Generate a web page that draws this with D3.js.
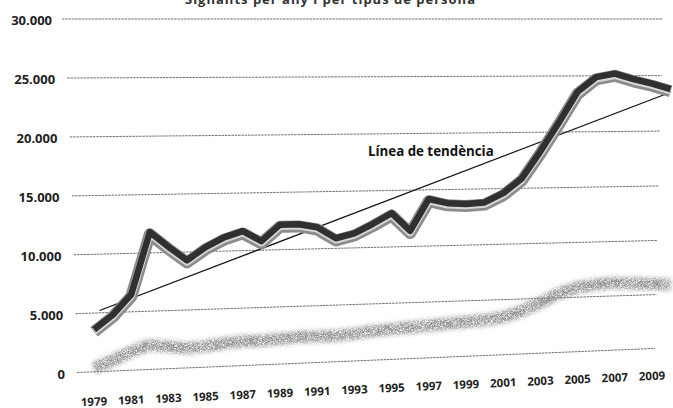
<!DOCTYPE html>
<html>
<head>
<meta charset="utf-8">
<title>Signants</title>
<script src="https://d3js.org/d3.v7.min.js"></script>
<style>
  body { margin: 0; background: #fff; }
  svg { display: block; }
  .y-label { font-family: "Open Sans", sans-serif; font-weight: 700; font-size: 13px; fill: #1e1e1e; }
  .x-label { font-family: "Open Sans", sans-serif; font-weight: 700; font-size: 11.5px; fill: #1e1e1e; }
  .grid { stroke: #555; stroke-width: 0.85; stroke-dasharray: 2.5 0.8; }
  .trend { stroke: #111; stroke-width: 1.3; fill: none; }
  .trend-label { font-family: "Open Sans", sans-serif; font-weight: 700; font-size: 13.3px; fill: #111; }
  .title { font-family: "Open Sans", sans-serif; font-weight: 700; font-size: 13px; fill: #333; }
</style>
</head>
<body>
<svg width="673" height="408"></svg>
<script>
// data
var years = [1979, 1980, 1981, 1982, 1983, 1984, 1985, 1986, 1987, 1988,
             1989, 1990, 1991, 1992, 1993, 1994, 1995, 1996, 1997, 1998,
             1999, 2000, 2001, 2002, 2003, 2004, 2005, 2006, 2007, 2008,
             2009, 2010];
var totals = [3500, 4700, 6400, 11700, 10400, 9200, 10300, 11100, 11600, 10700,
              12100, 12100, 11800, 10800, 11200, 12000, 12900, 11300, 14100, 13700,
              13600, 13700, 14500, 15800, 18200, 20800, 23500, 24800, 25100, 24600,
              24200, 23700];
var others = [300, 900, 1600, 2100, 1900, 1700, 1800, 2000, 2100, 2100,
              2200, 2300, 2300, 2300, 2400, 2600, 2700, 2800, 2900, 3000,
              3100, 3200, 3400, 3900, 4600, 5400, 5900, 6100, 6200, 6100,
              6000, 5900];
var trendYears = [1979.3, 2010];
var trendValues = [5200, 23500];
var yTicks = [0, 5000, 10000, 15000, 20000, 25000, 30000];
var yTickLabels = ["0", "5.000", "10.000", "15.000", "20.000", "25.000", "30.000"];
var xTicks = [1979, 1981, 1983, 1985, 1987, 1989, 1991, 1993, 1995, 1997,
              1999, 2001, 2003, 2005, 2007, 2009];

var svg = d3.select("svg");

var x = d3.scaleLinear().domain([1979, 2009]).range([94, 652]);
var y = d3.scaleLinear().domain([0, 30000]).range([373, 19]);

// the scan is a bit skewed: lower lines climb to the right
function tilt(py) {
    var v = (py - 19) / 354;
    return v > 0 ? 25 * Math.pow(v, 1.3) : 0;
}
function warp(px, py) {
    return [px, py - tilt(py) * (px - 65) / 600];
}
function pts(xs, vs) {
    return xs.map((d, i) => warp(x(d), y(vs[i])));
}

var line = d3.line();

// cropped title at the very top
svg.append("text")
    .attr("class", "title")
    .attr("x", 330).attr("y", 4)
    .attr("text-anchor", "middle")
    .attr("textLength", 290)
    .text("Signants per any i per tipus de persona");

// grid lines
var gridG = svg.append("g");
yTicks.forEach((t, i) => {
    var py = y(t);
    var v = (py - 19) / 354;
    var xl = 62 + 15 * Math.pow(v, 0.6);
    var xr = 663 - 8 * v;
    gridG.append("path")
        .attr("class", "grid")
        .attr("d", line([warp(xl, py), warp(xr, py)]));
    svg.append("text")
        .attr("class", "y-label")
        .attr("x", 52 + 13 * Math.pow(v, 0.8))
        .attr("y", py + 1)
        .attr("dy", "0.36em")
        .attr("text-anchor", "end")
        .text(yTickLabels[i]);
});

// year labels
xTicks.forEach(yr => {
    var p = warp(x(yr), 403);
    svg.append("text")
        .attr("class", "x-label")
        .attr("text-anchor", "middle")
        .attr("dy", "0.36em")
        .attr("transform", `translate(${p[0]},${p[1]}) rotate(-2.5)`)
        .text(yr);
});

// soft grainy grey band
var defs = svg.append("defs");
var f = defs.append("filter").attr("id", "fuzz")
    .attr("x", "-5%").attr("y", "-30%").attr("width", "110%").attr("height", "160%");
f.append("feGaussianBlur").attr("in", "SourceGraphic").attr("stdDeviation", 2).attr("result", "soft");
f.append("feTurbulence").attr("type", "fractalNoise").attr("baseFrequency", 1.6)
    .attr("numOctaves", 2).attr("seed", 7).attr("result", "noise");
f.append("feColorMatrix").attr("in", "noise").attr("type", "matrix")
    .attr("values", "0 0 0 0 0  0 0 0 0 0  0 0 0 0 0  2.2 0 0 0 -0.45").attr("result", "mask");
f.append("feComposite").attr("in", "soft").attr("in2", "mask").attr("operator", "in");

svg.append("path")
    .attr("d", line(pts(years, others)))
    .attr("fill", "none")
    .attr("stroke", "#8a8a8a")
    .attr("stroke-width", 12)
    .attr("stroke-linejoin", "round")
    .attr("filter", "url(#fuzz)");

// trend line
svg.append("path")
    .attr("class", "trend")
    .attr("d", line(pts(trendYears, trendValues)));

svg.append("text")
    .attr("class", "trend-label")
    .attr("x", 368).attr("y", 156)
    .text("Línea de tendència");

// main ribbon: grey rim, light stripe, dark face
var main = line(pts(years, totals));
[["#8c8c8c", 12, 1.2], ["#ddd5d5", 7.5, 0.6], ["#303030", 6.5, -1]].forEach(s => {
    svg.append("path")
        .attr("d", main)
        .attr("transform", `translate(0,${s[2]})`)
        .attr("fill", "none")
        .attr("stroke", s[0])
        .attr("stroke-width", s[1])
        .attr("stroke-linejoin", "round");
});
</script>
</body>
</html>
